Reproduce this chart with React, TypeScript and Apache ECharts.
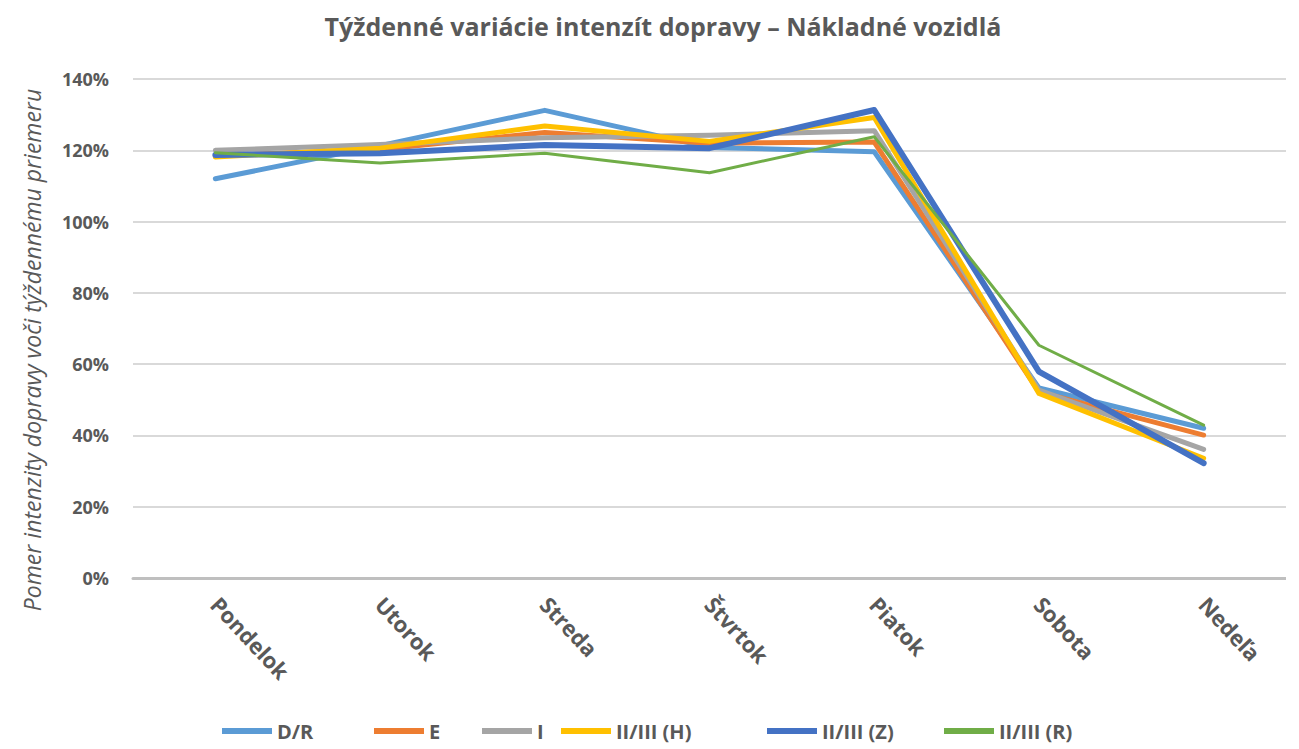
import React, { useEffect, useRef } from "react";
import * as echarts from "echarts";

const days = ["Pondelok", "Utorok", "Streda", "Štvrtok", "Piatok", "Sobota", "Nedeľa"];
const seriesNames = ["D/R", "E", "I", "II/III (H)", "II/III (Z)", "II/III (R)"];
const dr = [112.0, 121.3, 131.2, 120.8, 119.6, 53.3, 42.0];
const e = [118.5, 120.2, 125.0, 122.0, 122.3, 52.2, 40.1];
const iSeries = [120.0, 121.6, 123.5, 124.2, 125.5, 52.7, 36.1];
const h = [118.1, 120.6, 126.8, 122.5, 129.2, 51.8, 33.6];
const z = [118.7, 119.2, 121.5, 120.6, 131.3, 57.9, 32.2];
const r = [119.3, 116.4, 119.2, 113.7, 123.8, 65.3, 42.9];
const yTicks = { min: 0, max: 140, interval: 20 };
const yAxisTitle = "Pomer intenzity dopravy voči týždennému priemeru";

const colors = ["#5B9BD5", "#ED7D31", "#A5A5A5", "#FFC000", "#4472C4", "#70AD47"];
const widths = [5, 5, 5, 5, 6, 3];
const legendLefts = [222, 374, 482, 561, 767, 944];
const allData = [dr, e, iSeries, h, z, r];

export default function App() {
  const ref = useRef<HTMLDivElement>(null);
  useEffect(() => {
    if (!ref.current) return;
    const chart = echarts.init(ref.current, null, { renderer: "svg" });
    const font = "'Open Sans', Lato, sans-serif";
    chart.setOption({
      animation: false,
      backgroundColor: "#ffffff",
      title: {
        text: "Týždenné variácie intenzít dopravy – Nákladné vozidlá",
        left: 658,
        top: 8,
        textAlign: "center",
        textStyle: { fontFamily: font, fontSize: 25, fontWeight: "bold", color: "#595959" },
      },
      legend: seriesNames.map((name, idx) => ({
        data: [name],
        left: legendLefts[idx],
        top: 721,
        padding: 0,
        itemWidth: 50,
        itemHeight: 6,
        itemGap: 6,
        icon: "rect",
        textStyle: { fontFamily: font, fontSize: 20, fontWeight: "bold", color: "#595959" },
      })),
      graphic: [
        {
          type: "text",
          x: 32,
          y: 350,
          rotation: Math.PI / 2,
          style: {
            text: yAxisTitle,
            align: "center",
            verticalAlign: "middle",
            fontFamily: font,
            fontSize: 23,
            fontStyle: "italic",
            fill: "#595959",
          },
        },
      ],
      grid: { left: 133, right: -26, top: 79, bottom: 171, containLabel: false },
      xAxis: {
        type: "category",
        data: days,
        boundaryGap: true,
        axisLine: { lineStyle: { color: "#BFBFBF", width: 3 } },
        axisTick: { show: false },
        axisLabel: {
          rotate: -47,
          margin: 22,
          fontFamily: font,
          fontSize: 22,
          fontWeight: "bold",
          color: "#595959",
        },
      },
      yAxis: {
        type: "value",
        min: yTicks.min,
        max: yTicks.max,
        interval: yTicks.interval,
        axisLine: { show: false },
        axisTick: { show: false },
        splitLine: { lineStyle: { color: "#D9D9D9", width: 2 } },
        axisLabel: {
          formatter: "{value}%",
          margin: 24,
          fontFamily: font,
          fontSize: 18,
          fontWeight: "bold",
          color: "#595959",
        },
      },
      series: seriesNames.map((name, idx) => ({
        name,
        type: "line",
        data: allData[idx],
        symbol: "none",
        color: colors[idx],
        legendHoverLink: false,
        lineStyle: { color: colors[idx], width: widths[idx], cap: "round", join: "round" },
      })),
    });
    return () => chart.dispose();
  }, []);
  return (
    <div
      ref={ref}
      style={{ position: "absolute", left: 0, top: 0, width: 1286, height: 749 }}
    />
  );
}
